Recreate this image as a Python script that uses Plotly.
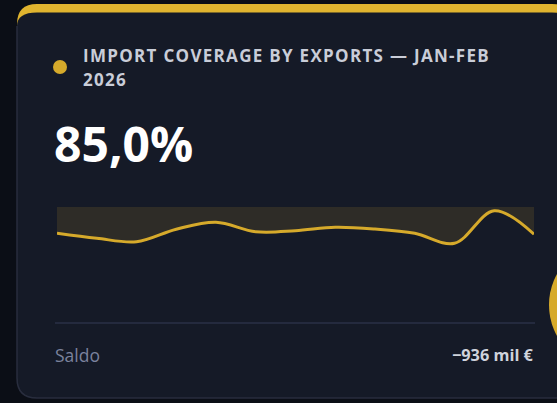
import plotly.graph_objects as go

# ---- data ----
months = ["Feb 25", "Mar 25", "Apr 25", "May 25", "Jun 25", "Jul 25", "Aug 25",
          "Sep 25", "Oct 25", "Nov 25", "Dec 25", "Jan 26", "Feb 26"]
coverage = [85.4, 83.4, 82.0, 87.0, 89.8, 86.0, 86.4, 87.8, 87.1, 85.4, 81.4, 94.4, 85.0]
ceiling_value = 96.0
title_line1 = "IMPORT COVERAGE BY EXPORTS — JAN-FEB"
title_line2 = "2026"
kpi_text = "85,0%"
footer_label = "Saldo"
footer_value = "−936 mil €"

W, H = 557, 403
def X(px): return px / W
def Y(py): return 1 - py / H

GOLD = "#d6aa2b"
CARD = "#151a27"
BG = "#0b0e16"

fig = go.Figure()
fig.add_trace(go.Scatter(x=months, y=[ceiling_value] * len(months), mode="lines",
                         line=dict(width=0, color="rgba(0,0,0,0)"), hoverinfo="skip",
                         showlegend=False))
fig.add_trace(go.Scatter(x=months, y=coverage, mode="lines", fill="tonexty",
                         fillcolor="rgba(214,170,43,0.13)",
                         line=dict(color=GOLD, width=3, shape="spline", smoothing=1.0),
                         showlegend=False))

L, T, R, B, r = 17, 4, 572, 398, 20
yellow = (f"M {X(L)},{Y(T+r)} Q {X(L)},{Y(T)} {X(L+r)},{Y(T)} L {X(R-r)},{Y(T)} "
          f"Q {X(R)},{Y(T)} {X(R)},{Y(T+r)} "
          f"L {X(R)},{Y(B)} L {X(L+r)},{Y(B)} Q {X(L)},{Y(B)} {X(L)},{Y(B-r)} Z")
bt = 12.5
body = (f"M {X(L)},{Y(T+r+2)} Q {X(L)},{Y(bt)} {X(L+r)},{Y(bt)} L {X(R-r)},{Y(bt)} "
        f"Q {X(R)},{Y(bt)} {X(R)},{Y(T+r+2)} "
        f"L {X(R)},{Y(B)} L {X(L+r)},{Y(B)} Q {X(L)},{Y(B)} {X(L)},{Y(B-r)} Z")
border = (f"M {X(L)},{Y(T+r+2)} L {X(L)},{Y(B-r)} Q {X(L)},{Y(B)} {X(L+r)},{Y(B)} L {X(R)},{Y(B)}")

shapes = [
    dict(type="path", path=yellow, xref="paper", yref="paper", fillcolor="#e0b42f",
         line=dict(width=0), layer="below"),
    dict(type="path", path=body, xref="paper", yref="paper", fillcolor=CARD,
         line=dict(width=0), layer="below"),
    dict(type="path", path=border, xref="paper", yref="paper",
         line=dict(width=1.5, color="#282d3e"), layer="below"),
    dict(type="circle", xref="paper", yref="paper", x0=X(53), x1=X(67),
         y0=Y(74), y1=Y(60), fillcolor=GOLD, line=dict(width=0), layer="below"),
    dict(type="line", xref="paper", yref="paper", x0=X(55), x1=X(535),
         y0=Y(323), y1=Y(323), line=dict(color="#2a3047", width=1.5), layer="below"),
    dict(type="circle", xref="paper", yref="paper", x0=X(549), x1=X(677),
         y0=Y(369), y1=Y(241), fillcolor=GOLD, line=dict(width=0), layer="above"),
]

annotations = [
    dict(text=title_line1, x=X(81), y=Y(55.5), xref="paper", yref="paper",
         xanchor="left", yanchor="middle", align="left", showarrow=False,
         font=dict(family="Open Sans", size=17, color="#c9cdd8", weight=700)),
    dict(text=title_line2, x=X(81), y=Y(79.5), xref="paper", yref="paper",
         xanchor="left", yanchor="middle", align="left", showarrow=False,
         font=dict(family="Open Sans", size=17, color="#c9cdd8", weight=700)),
    dict(text=kpi_text, x=X(52), y=Y(143), xref="paper", yref="paper",
         xanchor="left", yanchor="middle", showarrow=False,
         font=dict(family="Open Sans", size=48, color="#ffffff", weight=700)),
    dict(text=footer_label, x=X(53), y=Y(355), xref="paper", yref="paper",
         xanchor="left", yanchor="middle", showarrow=False,
         font=dict(family="Open Sans", size=17.5, color="#7b829d")),
    dict(text=footer_value, x=X(536), y=Y(355), xref="paper", yref="paper",
         xanchor="right", yanchor="middle", showarrow=False,
         font=dict(family="Open Sans", size=16.3, color="#cfd3dc", weight=700)),
]

fig.update_layout(
    width=W, height=H, margin=dict(l=0, r=0, t=0, b=0),
    paper_bgcolor=BG, plot_bgcolor="rgba(0,0,0,0)",
    xaxis=dict(domain=[X(57), X(534)], range=[0, len(months) - 1], visible=False,
               fixedrange=True),
    yaxis=dict(domain=[Y(250), Y(206.7)], range=[78.7, ceiling_value], visible=False,
               fixedrange=True),
    shapes=shapes, annotations=annotations, showlegend=False,
)

post = """
document.body.style.margin = '0';
document.body.style.overflow = 'hidden';
document.body.style.background = '#0b0e16';
var t = document.querySelectorAll('.annotation-text');
for (var i = 0; i < 2 && i < t.length; i++) { t[i].style.letterSpacing = '1.3px'; }
"""

fig.write_html("out.html", config={"displayModeBar": False}, post_script=post)
